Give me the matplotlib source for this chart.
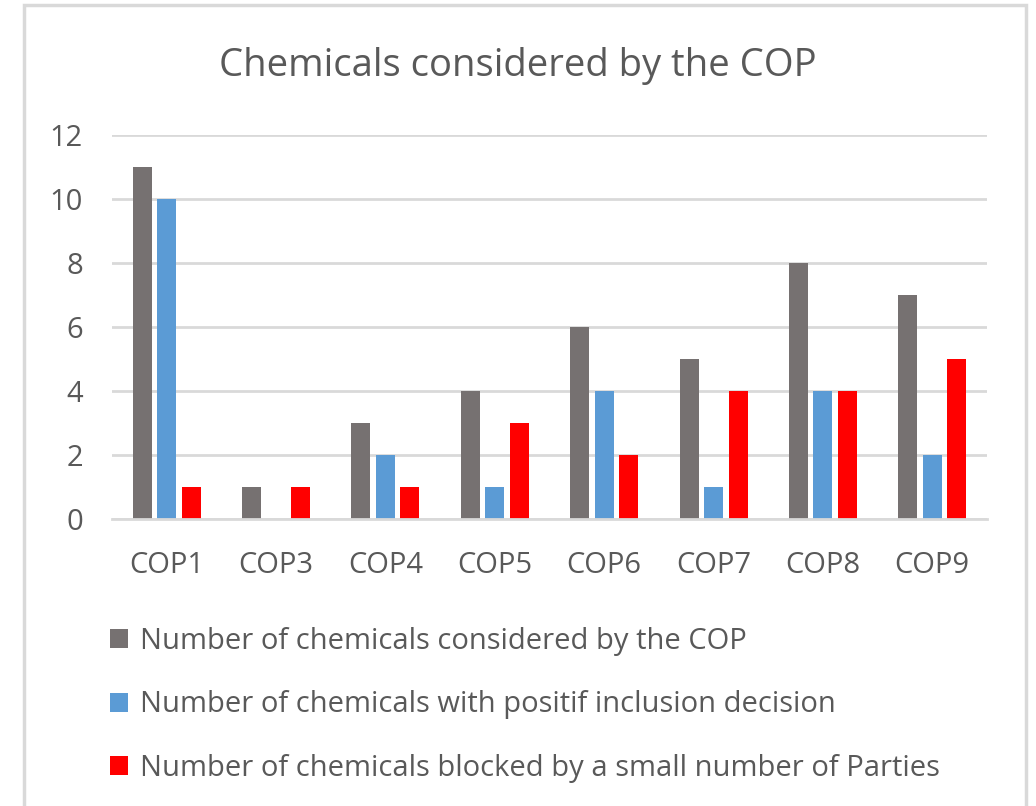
import numpy as np
import matplotlib.pyplot as plt
from matplotlib.patches import Rectangle

plt.rcParams['font.family'] = ['Open Sans', 'DejaVu Sans']

categories = ["COP1", "COP3", "COP4", "COP5", "COP6", "COP7", "COP8", "COP9"]
considered = [11, 1, 3, 4, 6, 5, 8, 7]
positive = [10, 0, 2, 1, 4, 1, 4, 2]
blocked = [1, 1, 1, 3, 2, 4, 4, 5]
labels = ["Number of chemicals considered by the COP",
          "Number of chemicals with positif inclusion decision",
          "Number of chemicals blocked by a small number of Parties"]
colors = ["#767171", "#5B9BD5", "#FF0000"]
txt = "#595959"
grid = "#D9D9D9"

fig = plt.figure(figsize=(10.36, 8.06), dpi=100)
# chart frame
fig.patches.append(Rectangle((24 / 1036, -0.1), (1026 - 24) / 1036, 1.1 - 5.5 / 806,
                             transform=fig.transFigure, fill=False,
                             edgecolor=grid, linewidth=2.5))

ax = fig.add_axes([112 / 1036, 1 - 519 / 806, (987 - 112) / 1036, (519 - 135) / 806])
x = np.arange(len(categories))
w = 0.174
off = 0.224
for i, (vals, c, lab) in enumerate(zip([considered, positive, blocked], colors, labels)):
    ax.bar(x + (i - 1) * off, vals, width=w, color=c, label=lab, zorder=3)

ax.set_xlim(-0.5, len(categories) - 0.5)
ax.set_ylim(0, 12)
ax.set_yticks(range(0, 13, 2))
ax.set_xticks(x)
ax.set_xticklabels(categories)
ax.yaxis.grid(True, color=grid, linewidth=2, zorder=0)
for s in ["top", "right", "left"]:
    ax.spines[s].set_visible(False)
ax.spines["bottom"].set_color(grid)
ax.spines["bottom"].set_linewidth(2)
ax.spines["bottom"].set_zorder(4)
ax.tick_params(axis="both", length=0, labelsize=21, colors=txt)
ax.tick_params(axis="y", pad=21)
ax.tick_params(axis="x", pad=23)

fig.text(0.5, 1 - 66 / 806, "Chemicals considered by the COP", ha="center", va="center",
         fontsize=27.5, color=txt)

fig.legend(loc="upper left", bbox_to_anchor=(110 / 1036, 1 - 627 / 806),
           frameon=False, fontsize=21, labelcolor=txt, handlelength=0.62,
           handleheight=0.62, handletextpad=0.42, labelspacing=1.18, borderpad=0,
           borderaxespad=0)

fig.savefig("out.png", dpi=100)
